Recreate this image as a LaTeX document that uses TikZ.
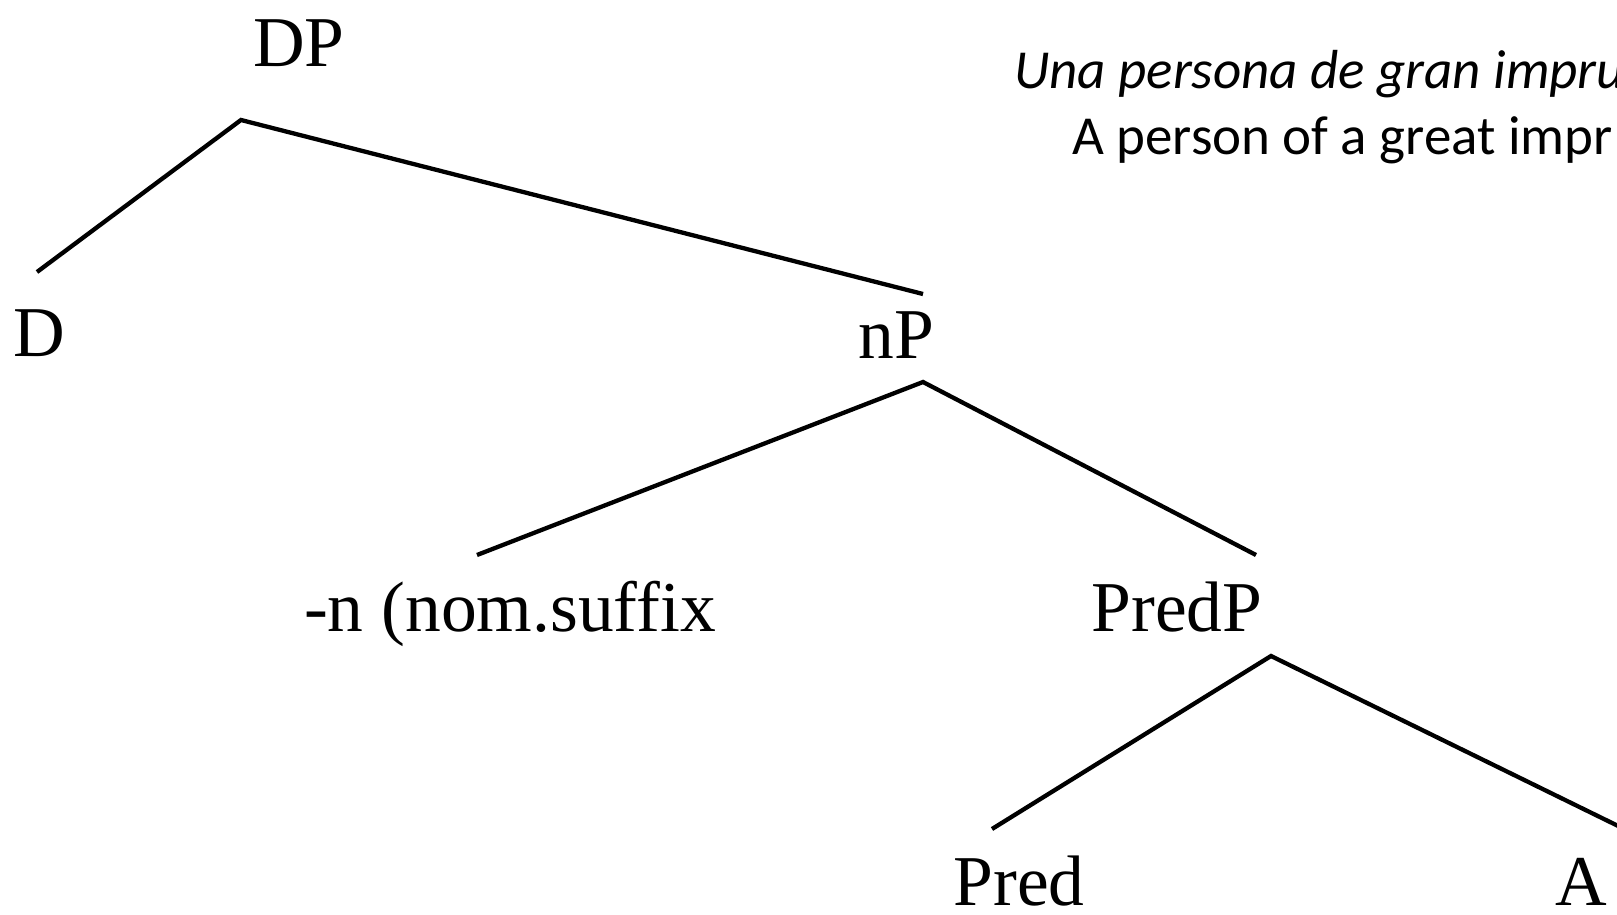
\documentclass[tikz,border=0pt]{standalone}
\usepackage{fontspec}
\setmainfont{Liberation Serif}
\newfontfamily\calib{Carlito}
\begin{document}
\begin{tikzpicture}[x=1pt,y=-1pt,
  lab/.style={anchor=base,inner sep=0pt,font=\fontsize{71.5}{84}\selectfont},
  note/.style={anchor=base west,inner sep=0pt,font=\calib\fontsize{55}{66}\selectfont},
  edge/.style={line width=4.3pt}]
\useasboundingbox (0,0) rectangle (1617,915);
\clip (0,0) rectangle (1617,915);
\node[lab] (DP) at (299,67) {DP};
\node[lab] (D) at (39,356) {D};
\node[lab] (nP) at (896,358) {nP};
\node[lab] (nsuf) at (510,631) {-n (nom.suffix};
\node[lab] (PredP) at (1177,631) {PredP};
\node[lab] (Pred) at (1019,905) {Pred};
\node[lab] (A) at (1581,905) {A};
\node[note] (t1) at (1014,89) {\itshape Una persona de gran impru};
\node[note] (t2) at (1072,155) {A person of a great impr};
\coordinate (DPb) at (241,120);
\coordinate (Dt) at (37,272);
\coordinate (nPt) at (923,294);
\coordinate (nPb) at (923,382);
\coordinate (nsuft) at (477,555);
\coordinate (PredPt) at (1256,555);
\coordinate (PredPb) at (1271,656);
\coordinate (Predt) at (992,829);
\coordinate (At) at (1753,892);
\draw[edge] (Dt) -- (DPb) -- (nPt);
\draw[edge] (nsuft) -- (nPb) -- (PredPt);
\draw[edge] (Predt) -- (PredPb) -- (At);
\end{tikzpicture}
\end{document}
